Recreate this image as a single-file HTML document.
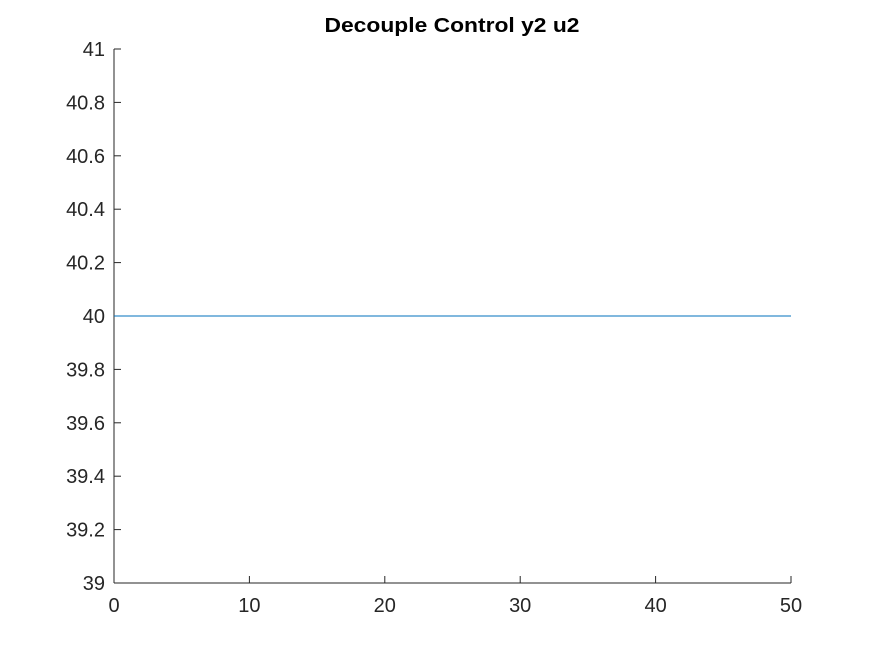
<!DOCTYPE html>
<html><head><meta charset="utf-8"><style>
html,body{margin:0;padding:0;background:#fff;}
svg{display:block;font-family:"Liberation Sans",Arial,sans-serif;}
</style></head><body>
<svg id="chart" width="875" height="656" viewBox="0 0 875 656">
<rect width="875" height="656" fill="#fff"/>
<text x="452" y="32" text-anchor="middle" font-size="20" font-weight="bold" fill="#000" textLength="255" lengthAdjust="spacingAndGlyphs">Decouple Control y2 u2</text>
<g id="axes"></g>
<g id="series"></g>
</svg>
<script>
const xTicks = [0,10,20,30,40,50];
const yTicks = [39,39.2,39.4,39.6,39.8,40,40.2,40.4,40.6,40.8,41];
const yTickLabels = ["39","39.2","39.4","39.6","39.8","40","40.2","40.4","40.6","40.8","41"];
const seriesX = [0,50];
const seriesY = [40,40];

const L=114,R=791,T=49,B=583;
const xs=v=>L+(v-0)/(50-0)*(R-L);
const ys=v=>B-(v-39)/(41-39)*(B-T);
const NS="http://www.w3.org/2000/svg";
const axes=document.getElementById('axes');
const ser=document.getElementById('series');
function mk(t,a,p){const e=document.createElementNS(NS,t);for(const k in a)e.setAttribute(k,a[k]);p.appendChild(e);return e;}

let xa=mk('line',{x1:L,y1:B,x2:R,y2:B,stroke:'#262626','stroke-width':1},axes);


let ya=mk('line',{x1:L,y1:T,x2:L,y2:B,stroke:'#262626','stroke-width':1},axes);



xTicks.forEach(v=>{
  const x=xs(v);
  let t=mk('line',{x1:x,y1:B,x2:x,y2:B-7,stroke:'#262626'},axes);
  
  
  let l=mk('text',{x:x,y:B+29,'text-anchor':'middle','font-size':20,fill:'#262626'},axes);
  l.textContent=String(v);
  
  
});
yTicks.forEach((v,i)=>{
  const y=ys(v);
  let t=mk('line',{x1:L,y1:y,x2:L+7,y2:y,stroke:'#262626'},axes);
  
  
  let l=mk('text',{x:L-9,y:y+7,'text-anchor':'end','font-size':20,fill:'#262626'},axes);
  l.textContent=yTickLabels[i];
  
  
});
const pts=seriesX.map((x,i)=>xs(x)+','+ys(seriesY[i])).join(' ');
let pl=mk('polyline',{points:pts,fill:'none',stroke:'#0072BD','stroke-width':1},ser);


</script>
</body></html>
